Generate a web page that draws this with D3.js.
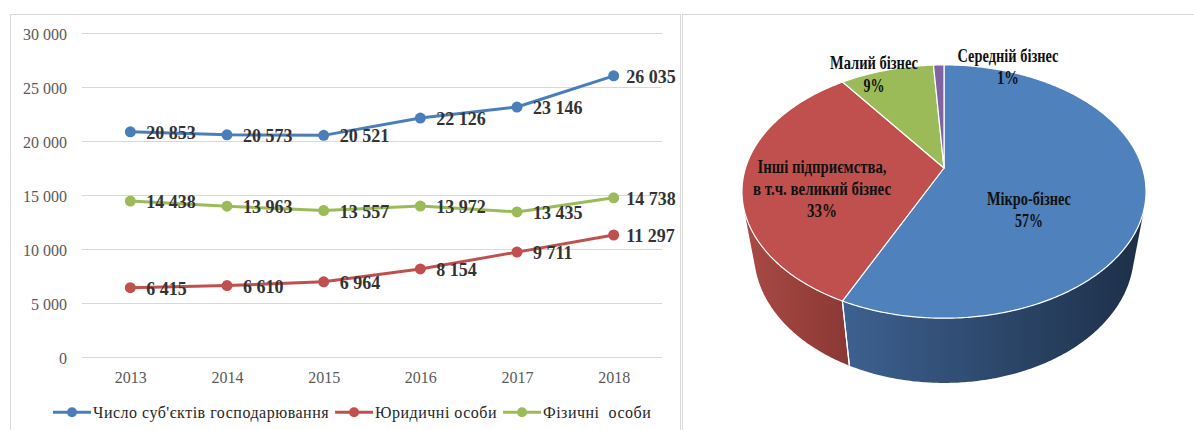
<!DOCTYPE html>
<html><head><meta charset="utf-8">
<script src="https://cdn.jsdelivr.net/npm/d3@7"></script>
<style>body{margin:0;background:#fff}svg{display:block}</style>
</head><body>
<svg id="c" width="1194" height="430"></svg>
<script>
// ---------- data ----------
const years = ["2013", "2014", "2015", "2016", "2017", "2018"];
const seriesNames = ["Число суб'єктів господарювання", "Юридичні особи", "Фізичні  особи"];
const totalEntities = [20853, 20573, 20521, 22126, 23146, 26035];
const legalEntities = [6415, 6610, 6964, 8154, 9711, 11297];
const individuals = [14438, 13963, 13557, 13972, 13435, 14738];
const yTicks = [0, 5000, 10000, 15000, 20000, 25000, 30000];

const pieCategories = ["Мікро-бізнес", "Інші підприємства, в т.ч. великий бізнес", "Малий бізнес", "Середній бізнес"];
const pieShares = [57, 33, 9, 1];
const pieLabelLines = [["Мікро-бізнес", "57%"], ["Інші підприємства,", "в т.ч. великий бізнес", "33%"], ["Малий бізнес", "9%"], ["Середній бізнес", "1%"]];

// ---------- styles / layout ----------
const lineColors = ["#4a7ebb", "#c0504d", "#9bbb59"];
const pieTop = ["#4f81bd", "#c0504d", "#9bbb59", "#8064a2"];
const pieSide = [["#3d6190", "#1d2f48"], ["#aa4a45", "#8a3834"], ["#7d9a45", "#5f7834"], ["#664f85", "#4c3b63"]];
const serif = "'Liberation Serif','Times New Roman',serif";
const fmt = d3.formatLocale({decimal: ",", thousands: " ", grouping: [3], currency: ["", ""]}).format(",");

const svg = d3.select("#c");

// panel borders
svg.append("rect").attr("x", 10.5).attr("y", 14.5).attr("width", 670).attr("height", 440)
  .attr("fill", "none").attr("stroke", "#d9d9d9").attr("stroke-width", 1);
svg.append("rect").attr("x", 682.5).attr("y", 14.5).attr("width", 540).attr("height", 440)
  .attr("fill", "none").attr("stroke", "#d9d9d9").attr("stroke-width", 1);

// ---------- line chart ----------
const x = d3.scalePoint().domain(years).range([82, 662]).padding(0.5);
const y = d3.scaleLinear().domain([0, 30000]).range([357, 33]);

const yAxis = svg.append("g").attr("transform", "translate(82,0)")
  .call(d3.axisLeft(y).tickValues(yTicks).tickFormat(fmt).tickSize(-580).tickPadding(15));
yAxis.select(".domain").remove();
yAxis.selectAll("line").attr("stroke", "#d9d9d9");
yAxis.selectAll("text").attr("font-family", serif).attr("font-size", 16).attr("fill", "#595959").attr("dy", "0.38em");

const xAxis = svg.append("g").attr("transform", "translate(0,357)")
  .call(d3.axisBottom(x).tickSize(0).tickPadding(15));
xAxis.select(".domain").remove();
xAxis.selectAll("text").attr("font-family", serif).attr("font-size", 16).attr("fill", "#595959");

const series = [totalEntities, legalEntities, individuals];
const line = d3.line().x((d, i) => x(years[i])).y(d => y(d));
series.forEach((vals, si) => {
  const g = svg.append("g");
  g.append("path").attr("d", line(vals)).attr("fill", "none")
    .attr("stroke", lineColors[si]).attr("stroke-width", 3).attr("stroke-linejoin", "round");
  g.selectAll("circle").data(vals).join("circle")
    .attr("cx", (d, i) => x(years[i])).attr("cy", d => y(d)).attr("r", 5.5).attr("fill", lineColors[si]);
  g.selectAll("text").data(vals).join("text")
    .attr("x", (d, i) => x(years[i]) + (i === years.length - 1 ? 12.5 : 16))
    .attr("y", d => y(d) + 7)
    .attr("font-family", serif).attr("font-size", 18).attr("font-weight", "bold").attr("fill", "#333")
    .text(d => fmt(d));
});

// legend
let lx = 53;
seriesNames.forEach((name, si) => {
  const g = svg.append("g");
  g.append("line").attr("x1", lx).attr("x2", lx + 38).attr("y1", 412.3).attr("y2", 412.3)
    .attr("stroke", lineColors[si]).attr("stroke-width", 3);
  g.append("circle").attr("cx", lx + 19).attr("cy", 412.3).attr("r", 5).attr("fill", lineColors[si]);
  const t = g.append("text").attr("x", lx + 40).attr("y", 417.5)
    .attr("font-family", serif).attr("font-size", 16).attr("fill", "#262626")
    .attr("letter-spacing", 0.5)
    .style("white-space", "pre").text(name);
  lx = lx + 40 + t.node().getComputedTextLength() + 6;
});

// ---------- 3D pie ----------
const PJ = {cx: 944, cy: 168, A: 198.5, k: 0.186, s: 0.616, c: 0.788, h: 0.421};
const dRel = PJ.c / PJ.k;
function proj(t, h) {
  const u = Math.sin(t), v = -Math.cos(t);
  const den = 1 + h * PJ.s / dRel - PJ.k * v;
  return [PJ.cx + PJ.A * u / den, PJ.cy + PJ.A * (h * PJ.c + v * PJ.s) / den];
}
function arcPts(t0, t1, h) {
  const n = Math.max(2, Math.ceil(Math.abs(t1 - t0) / 0.01));
  return d3.range(n + 1).map(i => proj(t0 + (t1 - t0) * i / n, h));
}
const arcs = d3.pie().sort(null).value(d => d)(pieShares);
const defs = svg.append("defs");
pieSide.forEach((cs, i) => {
  const gr = defs.append("linearGradient").attr("id", "side" + i).attr("x1", 0).attr("x2", 1).attr("y1", 0).attr("y2", 0);
  gr.append("stop").attr("offset", 0).attr("stop-color", cs[0]);
  gr.append("stop").attr("offset", 1).attr("stop-color", cs[1]);
});
const pieG = svg.append("g");
const v0 = PJ.k / (PJ.c * PJ.c);
const visA = Math.acos(-v0), visB = 2 * Math.PI - visA;
arcs.forEach((a, i) => {
  const t0 = Math.max(a.startAngle, visA), t1 = Math.min(a.endAngle, visB);
  if (t1 <= t0) return;
  const pts = arcPts(t0, t1, 0).concat(arcPts(t1, t0, PJ.h));
  pieG.append("path").attr("d", "M" + pts.join("L") + "Z").attr("fill", `url(#side${i})`);
});
arcs.forEach(a => {
  [a.startAngle, a.endAngle].forEach(t => {
    if (t > visA && t < visB) {
      const p0 = proj(t, 0), p1 = proj(t, PJ.h);
      pieG.append("line").attr("x1", p0[0]).attr("y1", p0[1]).attr("x2", p1[0]).attr("y2", p1[1])
        .attr("stroke", "#fff").attr("stroke-width", 1.2);
    }
  });
});
arcs.forEach((a, i) => {
  const pts = [[PJ.cx, PJ.cy]].concat(arcPts(a.startAngle, a.endAngle, 0));
  pieG.append("path").attr("d", "M" + pts.join("L") + "Z").attr("fill", pieTop[i])
    .attr("stroke", "#fff").attr("stroke-width", 1.2).attr("stroke-linejoin", "round");
});

// pie labels (positions / widths are layout)
const pieLabelLayout = [
  {x: 1029, y: [205, 227], w: [84, 28]},
  {x: 822, y: [173, 195, 217], w: [129, 138, 30]},
  {x: 874, y: [69, 92], w: [88, 21]},
  {x: 1008, y: [62, 84], w: [101, 22]}
];
pieLabelLines.forEach((lines, i) => {
  const L = pieLabelLayout[i];
  lines.forEach((txt, j) => {
    svg.append("text").attr("x", L.x).attr("y", L.y[j]).attr("text-anchor", "middle")
      .attr("font-family", serif).attr("font-size", 18).attr("font-weight", "bold").attr("fill", "#111")
      .attr("textLength", L.w[j]).attr("lengthAdjust", "spacingAndGlyphs").text(txt);
  });
});
</script>
</body></html>
